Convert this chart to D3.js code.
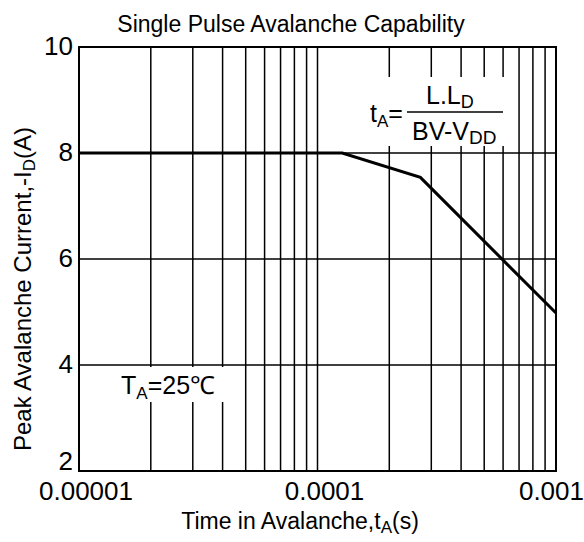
<!DOCTYPE html>
<html>
  <head>
    <meta charset="utf-8">
    <title>Single Pulse Avalanche Capability</title>
    <script src="https://d3js.org/d3.v7.min.js"></script>
    <style>
      body { margin: 0; background: #fff; }
      svg text { font-family: "Liberation Sans", Arial, sans-serif; fill: #000; }
      .grid line { stroke: #000; stroke-width: 1.5; }
    </style>
  </head>
  <body>
    <svg id="chart" width="584" height="542"></svg>
    <script>
      // data
      var times = [0.00001, 0.000127, 0.00027, 0.001];
      var currents = [8, 8, 7.54, 4.98];
      var xTicks = [0.00001, 0.0001, 0.001];
      var xTickLabels = ["0.00001", "0.0001", "0.001"];
      var yTicks = [2, 4, 6, 8, 10];

      var svg = d3.select("#chart");
      var plotLeft = 79, plotTop = 47, plotRight = 556, plotBottom = 471;

      var x = d3.scaleLog().domain([0.00001, 0.001]).range([plotLeft, plotRight]);
      var y = d3.scaleLinear().domain([2, 10]).range([plotBottom, plotTop]);

      // minor + major vertical grid
      var vLines = [];
      [0.00001, 0.0001].forEach(function(dec) {
        for (var i = 2; i <= 9; i++) vLines.push(dec * i);
      });
      vLines.push(0.0001);

      var grid = svg.append("g").classed("grid", true);
      grid.selectAll(".v")
          .data(vLines)
        .enter().append("line")
          .attr("x1", function(d) { return x(d); })
          .attr("x2", function(d) { return x(d); })
          .attr("y1", plotTop)
          .attr("y2", plotBottom);
      grid.selectAll(".h")
          .data(yTicks.filter(function(d) { return d > 2 && d < 10; }))
        .enter().append("line")
          .attr("x1", plotLeft)
          .attr("x2", plotRight)
          .attr("y1", function(d) { return y(d); })
          .attr("y2", function(d) { return y(d); });

      // curve
      var line = d3.line()
        .x(function(d) { return x(d[0]); })
        .y(function(d) { return y(d[1]); });
      svg.append("path")
        .attr("d", line(d3.zip(times, currents)))
        .attr("fill", "none")
        .attr("stroke", "#000")
        .attr("stroke-width", 3);

      // frame
      svg.append("rect")
        .attr("x", plotLeft).attr("y", plotTop)
        .attr("width", plotRight - plotLeft).attr("height", plotBottom - plotTop)
        .attr("fill", "none").attr("stroke", "#000").attr("stroke-width", 2);

      // white boxes behind annotations
      svg.append("rect").attr("x", 355).attr("y", 77).attr("width", 155).attr("height", 69).attr("fill", "#fff");
      svg.append("rect").attr("x", 105).attr("y", 367).attr("width", 128).attr("height", 35).attr("fill", "#fff");

      // formula
      var f = svg.append("g").style("font-size", "25px");
      var t1 = f.append("text").attr("x", 370).attr("y", 122);
      t1.append("tspan").text("t");
      t1.append("tspan").attr("dy", 5).style("font-size", "17px").text("A");
      t1.append("tspan").attr("dy", -5).text("=");
      f.append("line").attr("x1", 407).attr("x2", 503).attr("y1", 112).attr("y2", 112)
        .attr("stroke", "#000").attr("stroke-width", 1.5);
      var num = f.append("text").attr("x", 426).attr("y", 104);
      num.append("tspan").text("L.L");
      num.append("tspan").attr("dy", 4).style("font-size", "18px").text("D");
      var den = f.append("text").attr("x", 412).attr("y", 140);
      den.append("tspan").text("BV-V");
      den.append("tspan").attr("dy", 4).style("font-size", "19px").text("DD");

      // temperature
      var ta = svg.append("text").attr("x", 121).attr("y", 394).style("font-size", "25px");
      ta.append("tspan").text("T");
      ta.append("tspan").attr("dy", 5).style("font-size", "17px").text("A");
      ta.append("tspan").attr("dy", -5).text("=25\u2103");

      // tick labels
      svg.selectAll(".ytick")
          .data(yTicks)
        .enter().append("text")
          .attr("x", 73)
          .attr("y", function(d) { return Math.min(y(d) + 8, 470); })
          .attr("text-anchor", "end")
          .style("font-size", "26px")
          .text(function(d) { return d; });
      svg.selectAll(".xtick")
          .data(xTicks)
        .enter().append("text")
          .attr("x", function(d, i) { return i == 2 ? 584 : x(d) + 7; })
          .attr("y", 500)
          .attr("text-anchor", function(d, i) { return i == 2 ? "end" : "middle"; })
          .style("font-size", "26px")
          .text(function(d, i) { return xTickLabels[i]; });

      // titles
      svg.append("text").attr("x", 291).attr("y", 32).attr("text-anchor", "middle")
        .style("font-size", "23px").text("Single Pulse Avalanche Capability");
      var xt = svg.append("text").attr("x", 300).attr("y", 529).attr("text-anchor", "middle").style("font-size", "23px");
      xt.append("tspan").text("Time in Avalanche,t");
      xt.append("tspan").attr("dy", 4).style("font-size", "17px").text("A");
      xt.append("tspan").attr("dy", -4).text("(s)");
      var yt = svg.append("text").attr("transform", "translate(31, 289) rotate(-90)")
        .attr("text-anchor", "middle").style("font-size", "24px");
      yt.append("tspan").text("Peak Avalanche Current,-I");
      yt.append("tspan").attr("dy", 4).style("font-size", "17px").text("D");
      yt.append("tspan").attr("dy", -4).text("(A)");
    </script>
  </body>
</html>
